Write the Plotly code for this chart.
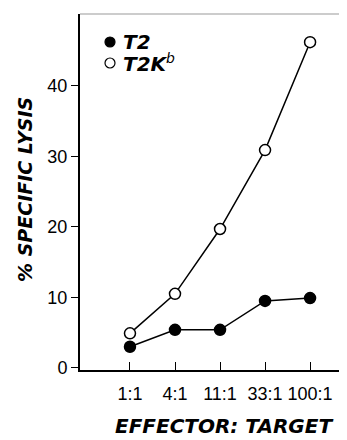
import plotly.graph_objects as go

categories = ["1:1", "4:1", "11:1", "33:1", "100:1"]
t2_values = [3.0, 5.4, 5.4, 9.5, 9.9]
t2kb_values = [4.9, 10.5, 19.7, 30.9, 46.2]
y_ticks = [0, 10, 20, 30, 40]

x_idx = list(range(len(categories)))
tick_font = "Liberation Sans, Arial, sans-serif"
title_font = "DejaVu Sans, Liberation Sans, sans-serif"

# page body has an 8px margin; compensate so the plot lands where the reference has it
OFF = 8
PL, PT, PW, PH = 80, 14, 267, 356  # plot area in window pixels


def px(x):
    return (x - PL) / PW


def py(y):
    return 1 - (y - PT) / PH


fig = go.Figure()
fig.add_trace(go.Scatter(
    x=x_idx, y=t2kb_values, mode="lines+markers", name="T2K<sup>b</sup>",
    line=dict(color="black", width=1.5),
    marker=dict(symbol="circle", size=11, color="white", line=dict(color="black", width=1.5)),
    showlegend=False,
))
fig.add_trace(go.Scatter(
    x=x_idx, y=t2_values, mode="lines+markers", name="T2",
    line=dict(color="black", width=1.5),
    marker=dict(symbol="circle", size=11, color="black", line=dict(color="black", width=1.5)),
    showlegend=False,
))

fig.update_layout(
    width=347 - OFF, height=440 - OFF,
    margin=dict(l=PL - OFF, r=0, t=PT - OFF, b=440 - OFF - (PT - OFF) - PH),
    paper_bgcolor="white", plot_bgcolor="white",
    font=dict(family=tick_font, color="black", size=18),
    xaxis=dict(
        range=[-1.11, 4.82], tickvals=x_idx, ticktext=categories,
        ticks="inside", ticklen=8, tickwidth=1.2, tickcolor="black",
        showline=True, linecolor="black", linewidth=2, showgrid=False, zeroline=False,
        tickfont=dict(size=18), automargin=False, ticklabelstandoff=6,
    ),
    yaxis=dict(
        range=[-0.3, 50.2], tickvals=y_ticks,
        ticks="outside", ticklen=7, tickwidth=1.2, tickcolor="black",
        showline=True, linecolor="black", linewidth=2, showgrid=False, zeroline=False,
        tickfont=dict(size=18), automargin=False,
    ),
    shapes=[
        dict(type="line", xref="paper", yref="paper", x0=0, x1=1, y0=1, y1=1,
             line=dict(color="#999999", width=1)),
        dict(type="circle", xref="paper", yref="paper", xsizemode="pixel", ysizemode="pixel",
             xanchor=px(110), yanchor=py(42),
             x0=-5, x1=5, y0=-5, y1=5, fillcolor="black", line=dict(color="black", width=1.2)),
        dict(type="circle", xref="paper", yref="paper", xsizemode="pixel", ysizemode="pixel",
             xanchor=px(110), yanchor=py(63),
             x0=-5, x1=5, y0=-5, y1=5, fillcolor="white", line=dict(color="black", width=1.2)),
    ],
    annotations=[
        dict(text="<b><i>T2</i></b>", xref="paper", yref="paper",
             x=px(121), y=py(42), xanchor="left", yanchor="middle",
             showarrow=False, font=dict(size=20, family=title_font)),
        dict(text="<b><i>T2K</i></b><sup><i>b</i></sup>", xref="paper", yref="paper",
             x=px(121), y=py(63), xanchor="left", yanchor="middle",
             showarrow=False, font=dict(size=20, family=title_font)),
        dict(text="<b><i>% SPECIFIC LYSIS</i></b>", xref="paper", yref="paper",
             x=px(25), y=py(190), xanchor="center", yanchor="middle",
             textangle=-90, showarrow=False, font=dict(size=19, family=title_font)),
        dict(text="<b><i>EFFECTOR: TARGET</i></b>", xref="paper", yref="paper",
             x=px(224), y=py(426), xanchor="center", yanchor="middle",
             showarrow=False, font=dict(size=20, family=title_font)),
    ],
)

fig.write_html("out.html")
